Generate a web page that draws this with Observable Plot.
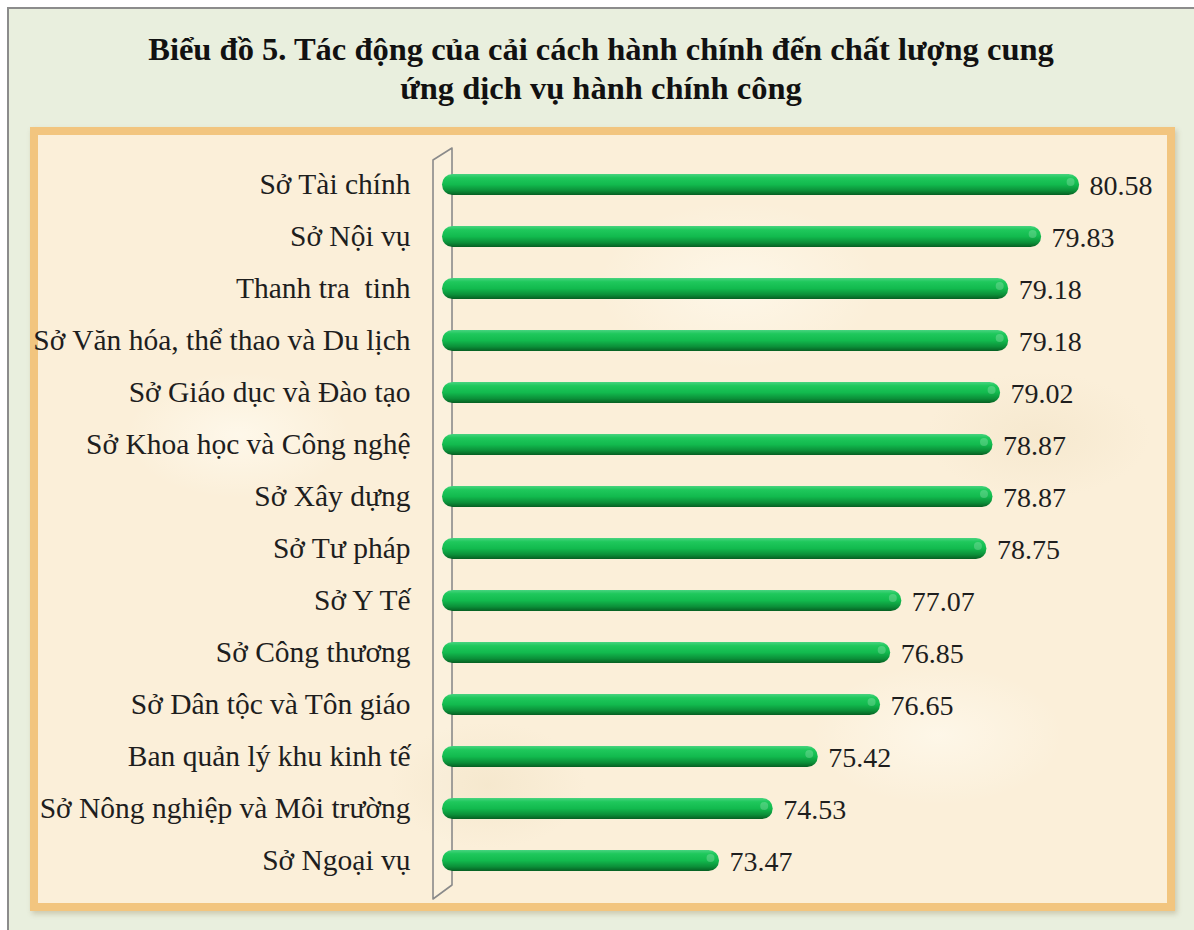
<!DOCTYPE html>
<html><head><meta charset="utf-8">
<script src="https://cdn.jsdelivr.net/npm/d3@7"></script>
<script src="https://cdn.jsdelivr.net/npm/@observablehq/plot@0.6"></script>
<style>
body{margin:0;background:#fff;width:1194px;height:930px;overflow:hidden;position:relative;font-family:"Liberation Serif","Times New Roman",Tinos,"Noto Serif","DejaVu Serif",serif;}
#frame{position:absolute;left:7px;top:7px;width:1300px;height:1000px;border:2px solid #8c8c8c;background:#e9efde;box-sizing:border-box}
#title{position:absolute;left:0;top:30px;width:1202px;text-align:center;font-weight:bold;font-size:32.5px;line-height:39px;color:#111}
#panel{position:absolute;left:30px;top:127px;width:1145px;height:784px;box-sizing:border-box;border:8px solid #f2c57f;
 box-shadow:2px 3px 5px rgba(120,90,40,0.25);
 background:
  radial-gradient(ellipse 160px 90px at 200px 300px, rgba(255,250,238,0.8), rgba(255,250,238,0) 70%),
  radial-gradient(ellipse 200px 120px at 700px 150px, rgba(255,250,238,0.7), rgba(255,250,238,0) 70%),
  radial-gradient(ellipse 180px 100px at 900px 600px, rgba(255,250,238,0.7), rgba(255,250,238,0) 70%),
  radial-gradient(ellipse 140px 90px at 450px 650px, rgba(240,225,195,0.5), rgba(240,225,195,0) 70%),
  radial-gradient(ellipse 160px 90px at 1000px 300px, rgba(240,225,195,0.45), rgba(240,225,195,0) 70%),
  #fbefd9;}
#chart{position:absolute;left:37px;top:136px}
</style></head>
<body>
<div id="frame"></div>
<div id="title">Biểu đồ 5. Tác động của cải cách hành chính đến chất lượng cung<br>ứng dịch vụ hành chính công</div>
<div id="panel"></div>
<div id="chart"></div>
<script>
const categories = [
  "Sở Tài chính",
  "Sở Nội vụ",
  "Thanh tra  tinh",
  "Sở Văn hóa, thể thao và Du lịch",
  "Sở Giáo dục và Đào tạo",
  "Sở Khoa học và Công nghệ",
  "Sở Xây dựng",
  "Sở Tư pháp",
  "Sở Y Tế",
  "Sở Công thương",
  "Sở Dân tộc và Tôn giáo",
  "Ban quản lý khu kinh tế",
  "Sở Nông nghiệp và Môi trường",
  "Sở Ngoại vụ"
];
const values = [80.58, 79.83, 79.18, 79.18, 79.02, 78.87, 78.87, 78.75, 77.07, 76.85, 76.65, 75.42, 74.53, 73.47];
const baseline = 68;
const xDomain = [68, 82];
const data = categories.map((name, i) => ({name, value: values[i]}));
const serif = '"Liberation Serif","Times New Roman",Tinos,"Noto Serif","DejaVu Serif",serif';

function wall(index, scales, vals, dims) {
  const x0 = scales.x(baseline);
  const top = dims.marginTop, bottom = dims.height - dims.marginBottom;
  const g = d3.create("svg:g");
  g.append("path")
    .attr("d", `M${x0 - 9},${top + 1} L${x0 + 10},${top - 11} L${x0 + 10},${bottom - 1} L${x0 - 9},${bottom + 13} Z`)
    .attr("fill", "rgba(255,255,255,0.12)")
    .attr("stroke", "#8a8a8a")
    .attr("stroke-width", 1.6)
    .attr("stroke-linejoin", "round");
  return g.node();
}

const chart = Plot.plot({
  width: 1130, height: 767,
  marginLeft: 405, marginRight: 16, marginTop: 23, marginBottom: 17,
  x: {domain: xDomain, axis: null},
  y: {domain: categories, paddingInner: 0.6, paddingOuter: 0.2, axis: null},
  style: {fontFamily: serif, fontSize: "28px", color: "#1e1e1e", background: "transparent", overflow: "visible"},
  marks: [
    wall,
    Plot.barX(data, {x1: () => baseline, x2: "value", y: "name", fill: "url(#barGrad)", rx: 10.5}),
    Plot.dot(data, {x: "value", y: "name", dx: -9, dy: -3, r: 4, fill: "white", fillOpacity: 0.2}),
    Plot.axisY({tickSize: 0, tickPadding: 32, fontSize: 29.5, fontFamily: serif, fill: "#1e1e1e", label: null}),
    Plot.text(data, {x: "value", y: "name", text: d => d.value.toFixed(2), dx: 10, dy: 1, textAnchor: "start", fontSize: 28, fontFamily: serif, fill: "#1e1e1e"})
  ]
});
const defs = d3.select(chart).insert("defs", ":first-child");
const grad = defs.append("linearGradient").attr("id", "barGrad").attr("x1", 0).attr("y1", 0).attr("x2", 0).attr("y2", 1);
[[0, "#48d480"], [0.18, "#1fc85c"], [0.5, "#12ba4e"], [0.8, "#0b8e38"], [1, "#065f22"]]
  .forEach(([o, c]) => grad.append("stop").attr("offset", o).attr("stop-color", c));
document.getElementById("chart").appendChild(chart);
</script>
</body></html>
